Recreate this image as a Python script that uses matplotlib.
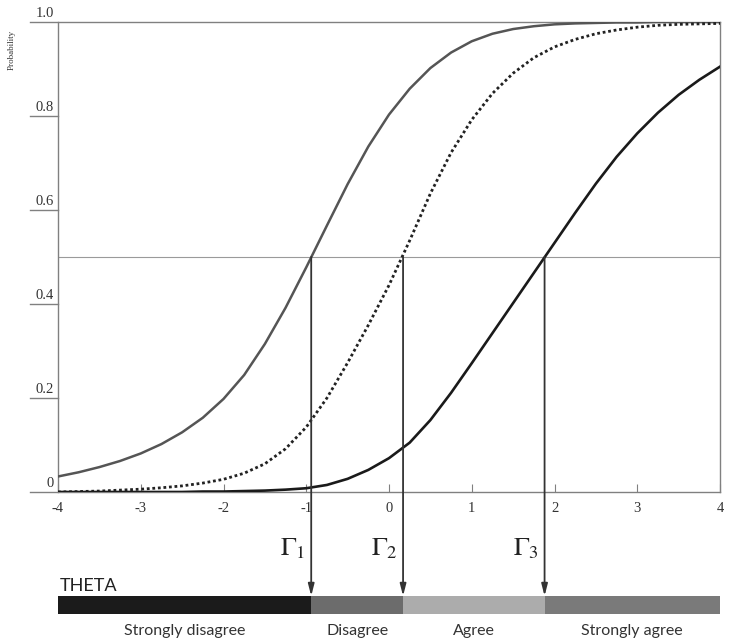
import numpy as np
import matplotlib.pyplot as plt

plt.rcParams['mathtext.fontset'] = 'stix'

# --- data ---
theta = [-4.0, -3.75, -3.5, -3.25, -3.0, -2.75, -2.5, -2.25, -2.0, -1.75, -1.5,
         -1.25, -1.0, -0.75, -0.5, -0.25, 0.0, 0.25, 0.5, 0.75, 1.0, 1.25, 1.5,
         1.75, 2.0, 2.25, 2.5, 2.75, 3.0, 3.25, 3.5, 3.75, 4.0]

# P(response above threshold 1), grey solid curve
p_gamma1 = [0.033, 0.042, 0.053, 0.066, 0.082, 0.102, 0.127, 0.158, 0.198, 0.249,
            0.315, 0.392, 0.478, 0.567, 0.655, 0.735, 0.803, 0.858, 0.902, 0.935,
            0.959, 0.975, 0.985, 0.991, 0.995, 0.997, 0.998, 0.999, 0.999, 1.0,
            1.0, 1.0, 1.0]

# threshold 2, dotted curve
p_gamma2 = [0.000, 0.001, 0.002, 0.004, 0.006, 0.009, 0.013, 0.019, 0.027, 0.040,
            0.060, 0.092, 0.138, 0.200, 0.275, 0.355, 0.440, 0.535, 0.635, 0.722,
            0.792, 0.848, 0.891, 0.924, 0.947, 0.963, 0.975, 0.983, 0.989, 0.993,
            0.995, 0.996, 0.997]

# threshold 3, black solid curve
p_gamma3 = [0.000, 0.000, 0.000, 0.000, 0.000, 0.000, 0.000, 0.001, 0.001, 0.002,
            0.003, 0.005, 0.008, 0.015, 0.028, 0.047, 0.072, 0.105, 0.153, 0.211,
            0.274, 0.338, 0.402, 0.466, 0.530, 0.594, 0.656, 0.713, 0.763, 0.807,
            0.845, 0.877, 0.905]

thresholds = [-0.94, 0.17, 1.88]
threshold_labels = [r'$\Gamma_1$', r'$\Gamma_2$', r'$\Gamma_3$']

categories = ['Strongly disagree', 'Disagree', 'Agree', 'Strongly agree']
category_colors = ['#1b1b1b', '#6c6c6c', '#acacac', '#7a7a7a']

x_ticks = [-4, -3, -2, -1, 0, 1, 2, 3, 4]
y_ticks = [0, 0.2, 0.4, 0.6, 0.8, 1.0]
y_tick_labels = ['0', '0.2', '0.4', '0.6', '0.8', '1.0']

W, H = 733, 644
fig = plt.figure(figsize=(W / 100, H / 100), dpi=100)

# main plot: x 58..720 px, y 22..492 px
ax = fig.add_axes([58 / W, 1 - 492 / H, 662 / W, 470 / H])
ax.set_xlim(-4, 4)
ax.set_ylim(0, 1)

ax.axhline(0.5, color='#9a9a9a', lw=0.8, zorder=1)
ax.plot(theta, p_gamma1, color='#555555', lw=1.8, zorder=3)
ax.plot(theta, p_gamma2, color='#222222', lw=2.0, ls=(0, (1, 1)), zorder=3)
ax.plot(theta, p_gamma3, color='#1a1a1a', lw=1.9, zorder=3)

for s in ['top', 'bottom']:
    ax.spines[s].set_visible(False)
for s in ['left', 'right']:
    ax.spines[s].set_color('#808080')
    ax.spines[s].set_linewidth(1.0)

ax.set_xticks(x_ticks)
ax.set_xticklabels([str(v) for v in x_ticks], family='Liberation Serif', fontsize=10.5,
                   color='#333333')
ax.tick_params(axis='x', direction='in', length=6, width=0.8, color='#808080', pad=7)
ax.set_yticks([])

# y ticks drawn as lines running out left, labels sitting on top of them
ytr = ax.get_yaxis_transform()
for v, lab in zip(y_ticks, y_tick_labels):
    x_end = 1.0 if v in (0, 1.0) else 0.0   # bottom and top lines span the plot
    ax.plot([-0.042, x_end], [v, v], transform=ytr, color='#808080', lw=1.0,
            clip_on=False, zorder=2)
    ax.text(-0.006, v + 0.004, lab, transform=ytr, ha='right', va='bottom',
            family='Liberation Serif', fontsize=10.5, color='#333333')

ax.text(-0.07, 0.94, 'Probability', transform=ax.transAxes, rotation=90,
        ha='center', va='center', family='Liberation Serif', fontsize=6.5, color='#333333')

# THETA bar
bax = fig.add_axes([58 / W, 1 - 614 / H, 662 / W, 18 / H])
bax.set_xlim(-4, 4)
bax.set_ylim(0, 1)
edges = [-4] + thresholds + [4]
for i, (cat, col) in enumerate(zip(categories, category_colors)):
    bax.barh(0.5, edges[i + 1] - edges[i], left=edges[i], height=1, color=col, lw=0)
    bax.text((edges[i] + edges[i + 1]) / 2, -0.55, cat, ha='center', va='top',
             family='Lato', fontsize=11.5, color='#333333')
bax.axis('off')
bax.text(-3.98, 1.12, 'THETA', ha='left', va='bottom', family='Lato', fontsize=13,
         color='#222222')

# threshold arrows from P = .5 down to the bar
for g, lab in zip(thresholds, threshold_labels):
    ax.annotate('', xy=(g, 1), xycoords=bax.get_xaxis_transform(),
                xytext=(g, 0.5), textcoords='data',
                arrowprops=dict(arrowstyle='-|>,head_length=0.7,head_width=0.18',
                                color='#333333', lw=1.3, shrinkA=0, shrinkB=0),
                annotation_clip=False, zorder=4)
    ax.text(g - 0.07, -0.12, lab, transform=ax.get_xaxis_transform(), ha='right',
            va='center', fontsize=19, color='#222222')

fig.savefig('out.png', dpi=100, facecolor='white')
